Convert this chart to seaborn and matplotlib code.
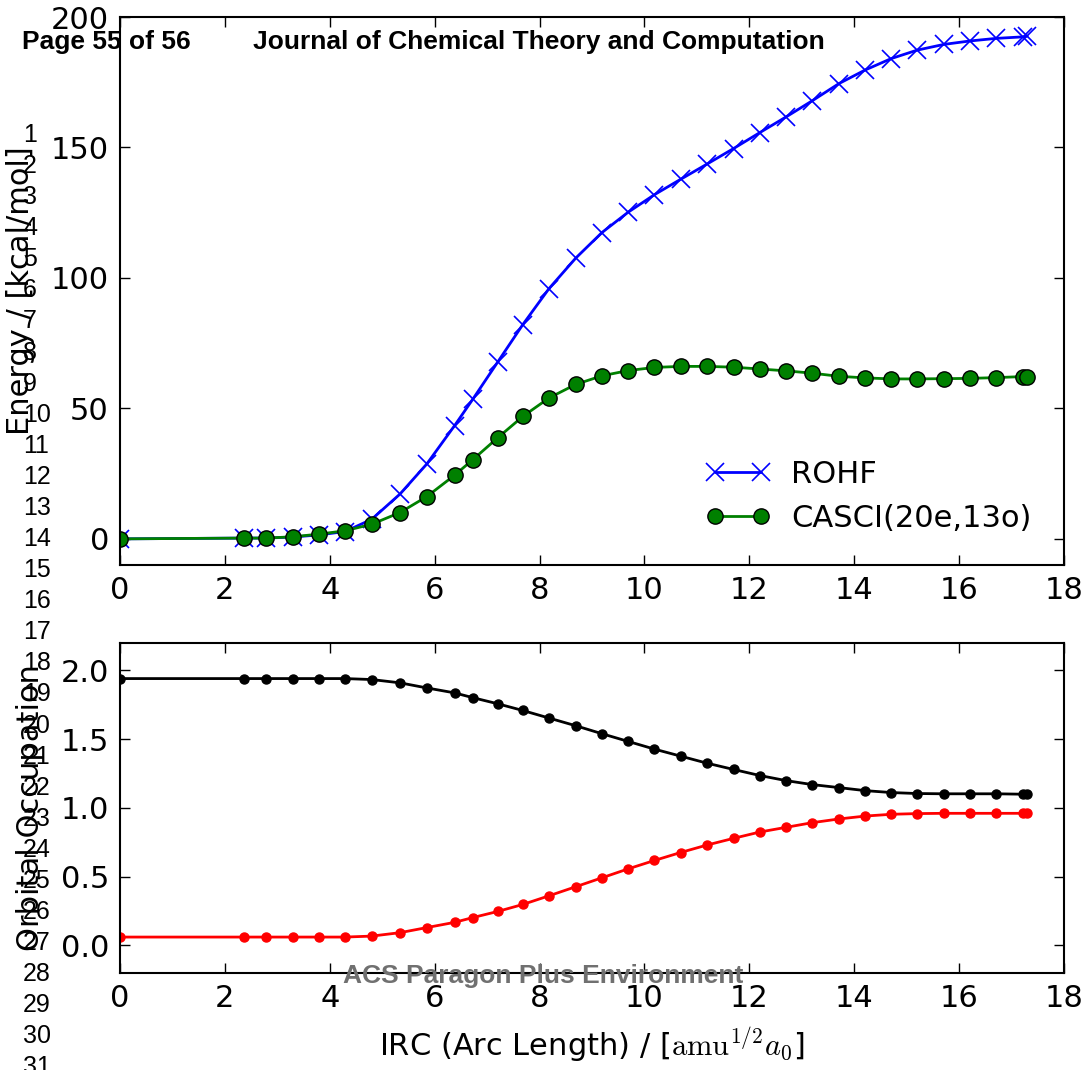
import matplotlib
matplotlib.use("Agg")
import matplotlib.pyplot as plt
import seaborn as sns
import pandas as pd

# ---------------------------------------------------------
# Data
# ---------------------------------------------------------
irc = [0.00, 2.37, 2.79, 3.29, 3.79, 4.29, 4.80, 5.34, 5.85, 6.38, 6.73,
       7.20, 7.68, 8.18, 8.69, 9.19, 9.69, 10.19, 10.69, 11.19, 11.70,
       12.20, 12.70, 13.20, 13.71, 14.21, 14.71, 15.20, 15.71, 16.20,
       16.70, 17.22, 17.30]

rohf = [0.0, 0.3, 0.3, 0.7, 1.5, 2.8, 7.5, 17.2, 28.7, 43.4, 53.6,
        67.7, 82.1, 95.9, 107.6, 117.4, 125.2, 131.9, 137.8, 143.6, 149.6,
        155.7, 161.7, 167.9, 174.5, 179.7, 184.1, 187.3, 189.5, 190.8,
        191.8, 192.4, 192.7]

casci = [0.0, 0.3, 0.3, 0.8, 1.8, 3.1, 5.6, 10.1, 16.2, 24.4, 30.4,
         38.7, 46.9, 54.0, 59.2, 62.5, 64.5, 65.7, 66.1, 66.1, 65.8,
         65.1, 64.4, 63.5, 62.3, 61.7, 61.3, 61.3, 61.4, 61.5,
         61.8, 62.2, 62.2]

occ_upper = [1.941, 1.941, 1.941, 1.941, 1.941, 1.941, 1.934, 1.910, 1.873,
             1.837, 1.802, 1.758, 1.709, 1.654, 1.598, 1.540, 1.484, 1.428,
             1.377, 1.326, 1.280, 1.236, 1.199, 1.170, 1.148, 1.126, 1.112,
             1.105, 1.103, 1.103, 1.103, 1.100, 1.100]

occ_lower = [0.061, 0.061, 0.061, 0.061, 0.061, 0.061, 0.068, 0.093, 0.130,
             0.168, 0.203, 0.247, 0.298, 0.361, 0.427, 0.492, 0.557, 0.618,
             0.676, 0.730, 0.779, 0.825, 0.859, 0.893, 0.920, 0.941, 0.954,
             0.959, 0.961, 0.961, 0.961, 0.961, 0.961]

energy_ticks = [0, 50, 100, 150, 200]
occ_ticks = [0.0, 0.5, 1.0, 1.5, 2.0]
irc_ticks = [0, 2, 4, 6, 8, 10, 12, 14, 16, 18]

df = pd.DataFrame({"irc": irc, "rohf": rohf, "casci": casci,
                   "upper": occ_upper, "lower": occ_lower})

# ---------------------------------------------------------
# Style (old matplotlib "classic" look)
# ---------------------------------------------------------
sns.set_style("ticks")
plt.rcParams["font.family"] = "DejaVu Sans"
plt.rcParams["mathtext.fontset"] = "cm"
for key in ("text.color", "axes.labelcolor", "xtick.color", "ytick.color",
            "axes.edgecolor"):
    plt.rcParams[key] = "black"

fig = plt.figure(figsize=(10.86, 10.70), dpi=100)
ax1 = fig.add_axes([0.1105, 0.4720, 0.8692, 0.5121])
ax2 = fig.add_axes([0.1105, 0.0907, 0.8692, 0.3084])

# top panel: energies
sns.lineplot(data=df, x="irc", y="rohf", ax=ax1, color="blue", lw=2,
             marker="x", markersize=13, markeredgewidth=1.2,
             markeredgecolor="blue", sort=False, estimator=None,
             label="ROHF")
sns.lineplot(data=df, x="irc", y="casci", ax=ax1, color="green", lw=2,
             marker="o", markersize=11, markeredgewidth=1,
             markeredgecolor="black", markerfacecolor="green",
             sort=False, estimator=None, label="CASCI(20e,13o)")

# bottom panel: natural orbital occupations
sns.lineplot(data=df, x="irc", y="upper", ax=ax2, color="black", lw=2,
             marker="o", markersize=6.5, markeredgewidth=1,
             markeredgecolor="black", sort=False, estimator=None,
             legend=False)
sns.lineplot(data=df, x="irc", y="lower", ax=ax2, color="red", lw=2,
             marker="o", markersize=6.5, markeredgewidth=1,
             markeredgecolor="red", sort=False, estimator=None,
             legend=False)

ax1.set_xlim(0, 18)
ax1.set_ylim(-10, 200)
ax1.set_xticks(irc_ticks)
ax1.set_yticks(energy_ticks)
ax1.set_xlabel("")
ax1.set_ylabel("Energy / [kcal/mol]", fontsize=22, labelpad=11)

ax2.set_xlim(0, 18)
ax2.set_ylim(-0.2, 2.2)
ax2.set_xticks(irc_ticks)
ax2.set_yticks(occ_ticks)
ax2.set_xlabel(r"IRC (Arc Length) / [$\mathrm{amu}^{1/2}a_0$]", fontsize=22, labelpad=9)
ax2.set_ylabel("Orbital Occupation", fontsize=22, labelpad=11)

for ax in (ax1, ax2):
    ax.tick_params(direction="in", top=True, right=True, length=7,
                   width=1, labelsize=22, pad=8, colors="black")
    for sp in ax.spines.values():
        sp.set_visible(True)
        sp.set_linewidth(1.5)
        sp.set_color("black")

ax1.legend(loc="lower right", frameon=False, numpoints=2, fontsize=22,
           handlelength=2.1, handletextpad=0.7, labelspacing=0.5,
           borderaxespad=0.65)

# ---------------------------------------------------------
# Journal page overlay
# ---------------------------------------------------------
W, H = 1086, 1070
fig.text(22 / W, 1 - 42 / H, "Page 55 of 56", fontsize=19, weight="bold",
         family="Liberation Sans", va="center", ha="left")
fig.text(253 / W, 1 - 42 / H, "Journal of Chemical Theory and Computation",
         fontsize=19, weight="bold", family="Liberation Sans",
         va="center", ha="left")
fig.text(543 / W, 1 - 976 / H, "ACS Paragon Plus Environment", fontsize=19,
         weight="bold", family="Liberation Sans", color="#707070",
         va="center", ha="center")
for n in range(1, 32):
    y = 135 + (n - 1) * 31.08
    fig.text(23 / W, 1 - y / H, str(n), fontsize=18,
             family="Liberation Sans", va="center", ha="left")

fig.savefig("out.png", dpi=100)
